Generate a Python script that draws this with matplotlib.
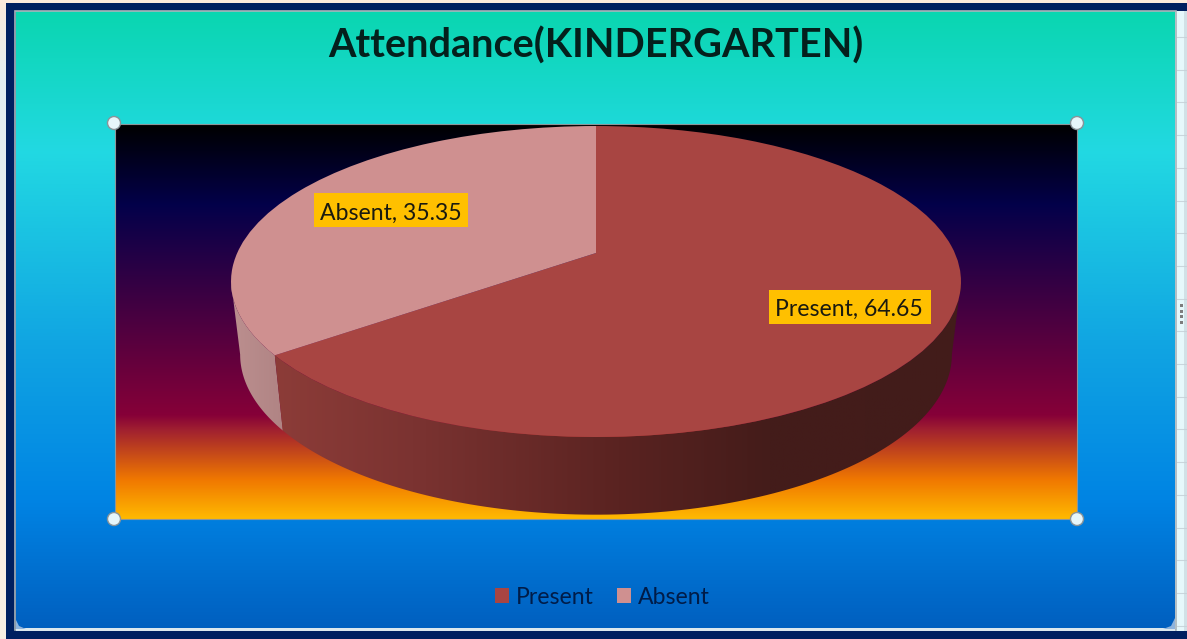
import numpy as np
import matplotlib
matplotlib.use("Agg")
import matplotlib.pyplot as plt
from matplotlib.colors import LinearSegmentedColormap
from matplotlib.patches import Circle, Polygon, Rectangle
from matplotlib.transforms import Transform

categories = ["Present", "Absent"]
values = [64.65, 35.35]
top_colors = ["#a84542", "#cf9090"]
title = "Attendance(KINDERGARTEN)"

plt.rcParams['font.family'] = ['Lato', 'DejaVu Sans']

W, H = 1187, 639
fig = plt.figure(figsize=(W / 100, H / 100), dpi=100)
ax = fig.add_axes([0, 0, 1, 1])

# tilt of the pie, in picture pixels
CX, R, TILT, Y0, YS = 596, 358.8, 57 / 311, 253, -103.9


def project(xy):
    u, v = xy[:, 0], xy[:, 1]
    d = 1 + TILT * v
    return np.column_stack([CX + R * u / d, (YS * v + Y0) / d])


class Tilt(Transform):
    input_dims = 2
    output_dims = 2

    def transform_non_affine(self, values):
        return project(np.asarray(values))


def vgrad(y0, y1, x0, x1, stops, z=0):
    # vertical gradient block, stops = (y, colour)
    pos = [(y - y0) / (y1 - y0) for y, c in stops]
    cm = LinearSegmentedColormap.from_list("g", list(zip(pos, [c for y, c in stops])), N=512)
    g = np.linspace(0, 1, 512)[:, None]
    ax.imshow(g, cmap=cm, extent=[x0, x1, y1, y0], aspect='auto', zorder=z, vmin=0, vmax=1,
              interpolation='bilinear')


# outside of the chart
vgrad(0, 639, 0, 6, [(0, "#fdeadb"), (80, "#e2eef2"), (200, "#e6eff0"), (400, "#fdf0e2"), (639, "#f8efe4")])
ax.add_patch(Rectangle((0, 0), W, 3, fc="#fdebdc", ec="none", zorder=0.1))
ax.add_patch(Rectangle((6, 3), W - 6, H - 3, fc="#002060", ec="none", zorder=0.1))
ax.add_patch(Rectangle((1175, 11), 12, 620, fc="#e6f8fb", ec="none", zorder=0.2))
for yy in np.arange(37, 630, 32.7):
    ax.plot([1177, 1187], [yy, yy], color="#c9d6dc", lw=0.8, zorder=0.3)
ax.add_patch(Rectangle((1184, 11), 3, 620, fc="#c4d2d8", ec="none", alpha=0.6, zorder=0.3))
for yy in [305, 311, 316, 322]:
    ax.add_patch(Rectangle((1179.5, yy - 1), 3, 2.5, fc="#7d7d7d", ec="none", zorder=0.4))

# chart area
vgrad(11, 630, 16, 1175, [(11, "#0ad6b0"), (150, "#22d9e2"), (340, "#11a6e2"), (500, "#0084e4"), (630, "#005fbf")],
      z=0.5)
ax.add_patch(Rectangle((15, 11), 1161, 619, fc="none", ec="#a9b4ba", lw=1.2, zorder=0.6))
ax.add_patch(Rectangle((16, 628), 1159, 3, fc="#dce8ee", ec="none", zorder=0.6))
# rounded lower corners
ax.add_patch(Polygon([(1175, 618), (1175, 629), (1163, 629), (1171, 626)], fc="#8fb4dc", ec="none", zorder=0.6))
ax.add_patch(Polygon([(16, 620), (16, 629), (26, 629), (19, 626)], fc="#8fb4dc", ec="none", zorder=0.6))

# plot area
vgrad(124, 519, 115, 1077, [(124, "#000000"), (205, "#03004a"), (415, "#860038"), (430, "#a02030"),
                            (480, "#f07800"), (519, "#ffb900")], z=0.7)
ax.add_patch(Rectangle((115, 124), 962, 395, fc="none", ec="#8e9598", lw=0.8, zorder=0.8))

# side wall of the pie
edges = 90 - 360 * np.cumsum([0] + values) / sum(values)
split = edges[1] % 360
left, right = 180 + np.degrees(np.arcsin(TILT)), 360 - np.degrees(np.arcsin(TILT))
present_wall = LinearSegmentedColormap.from_list(
    "p", [(0, "#8c3c38"), (0.2, "#7b3331"), (0.5, "#5a2321"), (0.72, "#441c1a"), (1, "#421c1a")])
absent_wall = LinearSegmentedColormap.from_list("a", ["#bc8f8f", "#b08484"])


def rim(phi):
    a = np.radians(phi)
    top = project(np.column_stack([np.cos(a), np.sin(a)]))
    low = np.column_stack([CX + (top[:, 0] - CX) * 0.975, 281 + (top[:, 1] - 281) * 1.03 + 73])
    return top, low


for a0, a1, cm in [(left, split, absent_wall), (split, right, present_wall)]:
    top, low = rim(np.linspace(a0, a1, 120))
    outline = np.vstack([top, low[::-1]])
    x0, x1 = outline[:, 0].min(), outline[:, 0].max()
    shape = Polygon(outline, transform=ax.transData, fc="none", ec="none")
    ax.add_patch(shape)
    im = ax.imshow(np.linspace(0, 1, 256)[None, :], cmap=cm, extent=[x0, x1, 520, 280], aspect='auto', zorder=1)
    im.set_clip_path(shape)

# top of the pie
wedges, _ = ax.pie(values, colors=top_colors, startangle=90, counterclock=False, radius=1, center=(0, 0))
for w in wedges:
    w.set_transform(Tilt() + ax.transData)
    w.set_zorder(2)
    w.set_linewidth(0)

ax.set_aspect('auto')
ax.set_xlim(0, W)
ax.set_ylim(H, 0)
ax.set_frame_on(False)
ax.set_xticks([])
ax.set_yticks([])

# data labels
label_pos = [(848.5, 309.5), (390.5, 213)]
label_box = [(769, 290, 162, 34), (314, 193, 154, 34)]
for cat, val, (tx, ty), (bx, by, bw, bh) in zip(categories, values, label_pos, label_box):
    ax.add_patch(Rectangle((bx, by), bw, bh, fc="#ffc000", ec="none", zorder=3))
    ax.text(tx, ty, f"{cat}, {val}", fontsize=16.6, color="#1a1a10", ha='center', va='center', zorder=4)

ax.text(596, 46, title, fontsize=28.5, fontweight='bold', color="#04201c", ha='center', va='center', zorder=4)

leg = ax.legend(wedges, categories, ncol=2, loc='center', bbox_to_anchor=(602.5 / W, 1 - 597 / H), frameon=False,
                fontsize=16.6, labelcolor="#001c48", handlelength=0.6, handleheight=0.6, handletextpad=0.3,
                columnspacing=1.0, borderpad=0)
leg.set_zorder(4)

# selection handles
for hx in (114, 1077):
    for hy in (123, 519):
        ax.add_patch(Circle((hx, hy), 6.5, fc="#e6f6fa", ec="#8a9499", lw=1, zorder=5))

fig.savefig("out.png", dpi=100)
